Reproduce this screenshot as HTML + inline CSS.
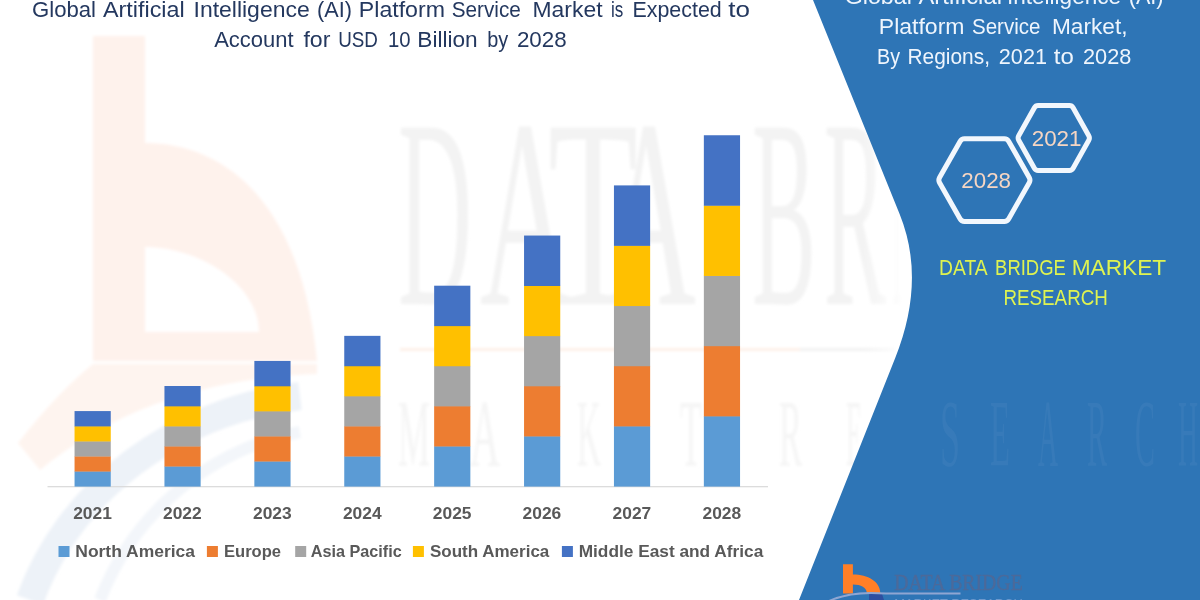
<!DOCTYPE html>
<html lang="en"><head><meta charset="utf-8"><title>Global Artificial Intelligence (AI) Platform Service Market</title>
<style>
html,body{margin:0;padding:0;background:#fff;}
body{width:1200px;height:600px;overflow:hidden;}
svg{display:block}
text{font-family:"Liberation Sans",sans-serif;}
.yr{font-weight:bold;font-size:16.4px;fill:#595959;}
.lg{font-weight:bold;font-size:16.4px;fill:#595959;}
.ttl{font-size:21.4px;fill:#24385f;}
.pt{font-size:21.6px;fill:#eef5fd;}
.hx{font-size:22.5px;fill:#F6D6C3;}
.db{font-size:21.3px;fill:#DFF350;}
.wmt{font-family:"Liberation Serif",serif;font-size:269px;fill:#f3f3f3;}
.wms{font-family:"Liberation Serif",serif;font-size:95px;fill:#f5f5f5;}
.wmp{font-family:"Liberation Serif",serif;font-size:95px;fill:#ffffff;fill-opacity:0.045;}
.lgt{font-family:"Liberation Serif",serif;font-size:23px;fill:#4c6a9a;stroke:#4c6a9a;stroke-width:0.35px;}
.lgs{font-family:"Liberation Sans",sans-serif;font-size:12.5px;fill:#7da2d3;fill-opacity:0.8;}
</style></head><body>
<svg width="1200" height="600" viewBox="0 0 1200 600">
<defs><filter id="bl" x="-5%" y="-5%" width="110%" height="110%"><feGaussianBlur stdDeviation="1.6"/></filter><linearGradient id="fade" x1="0" y1="0" x2="1" y2="0"><stop offset="0" stop-color="#fff" stop-opacity="0"/><stop offset="1" stop-color="#fff" stop-opacity="1"/></linearGradient></defs>
<rect width="1200" height="600" fill="#ffffff"/>
<g class="wm" filter="url(#bl)">
<path d="M30,600 A330,300 0 0 1 300,396" fill="none" stroke="#edf2f8" stroke-width="28"/>
<path d="M100,600 A270,270 0 0 1 300,432" fill="none" stroke="#f3f6fa" stroke-width="12"/>
<path fill-rule="evenodd" d="M93,36 H145 V143 C215,143 300,190 317,361 H93 Z M145,247 C200,247 259,285 259,332 H145 Z" fill="#fef2ec"/>
<path d="M18,443 Q58,392 93,364 L317,364 L317,374 Q150,380 40,470 Z" fill="#fef4ef"/>
<text x="398.0" y="304.0" class="wmt" textLength="74.0" lengthAdjust="spacingAndGlyphs">D</text>
<text x="480.0" y="304.0" class="wmt" textLength="92.0" lengthAdjust="spacingAndGlyphs">A</text>
<text x="548.0" y="304.0" class="wmt" textLength="90.0" lengthAdjust="spacingAndGlyphs">T</text>
<text x="604.0" y="304.0" class="wmt" textLength="92.0" lengthAdjust="spacingAndGlyphs">A</text>
<text x="752.0" y="304.0" class="wmt" textLength="64.0" lengthAdjust="spacingAndGlyphs">B</text>
<text x="824.0" y="304.0" class="wmt" textLength="62.0" lengthAdjust="spacingAndGlyphs">R</text>
<text x="893.0" y="304.0" class="wmt" textLength="8.0" lengthAdjust="spacingAndGlyphs">I</text>
<rect x="400" y="348" width="400" height="3" fill="#fdf0e8"/>
<rect x="800" y="348" width="95" height="3" fill="#f1f1f1"/>
<text x="398.0" y="466.0" class="wms" textLength="32.0" lengthAdjust="spacingAndGlyphs">M</text>
<text x="470.0" y="466.0" class="wms" textLength="30.0" lengthAdjust="spacingAndGlyphs">A</text>
<text x="525.0" y="466.0" class="wms" textLength="25.0" lengthAdjust="spacingAndGlyphs">R</text>
<text x="577.0" y="466.0" class="wms" textLength="24.0" lengthAdjust="spacingAndGlyphs">K</text>
<text x="630.0" y="466.0" class="wms" textLength="18.0" lengthAdjust="spacingAndGlyphs">E</text>
<text x="680.0" y="466.0" class="wms" textLength="22.0" lengthAdjust="spacingAndGlyphs">T</text>
<text x="779.0" y="466.0" class="wms" textLength="23.0" lengthAdjust="spacingAndGlyphs">R</text>
<text x="846.0" y="466.0" class="wms" textLength="16.0" lengthAdjust="spacingAndGlyphs">E</text>
<rect x="862" y="60" width="45" height="440" fill="url(#fade)"/>
</g>
<rect x="47.5" y="486.1" width="720.5" height="1.2" fill="#d9d9d9"/>
<rect x="74.55" y="471.25" width="36.2" height="15.34" fill="#5B9BD5"/>
<rect x="74.55" y="456.21" width="36.2" height="15.34" fill="#ED7D31"/>
<rect x="74.55" y="441.17" width="36.2" height="15.34" fill="#A5A5A5"/>
<rect x="74.55" y="426.12" width="36.2" height="15.34" fill="#FFC000"/>
<rect x="74.55" y="411.08" width="36.2" height="15.34" fill="#4472C4"/>
<rect x="164.45" y="466.24" width="36.2" height="20.36" fill="#5B9BD5"/>
<rect x="164.45" y="446.18" width="36.2" height="20.36" fill="#ED7D31"/>
<rect x="164.45" y="426.12" width="36.2" height="20.36" fill="#A5A5A5"/>
<rect x="164.45" y="406.06" width="36.2" height="20.36" fill="#FFC000"/>
<rect x="164.45" y="386.00" width="36.2" height="20.36" fill="#4472C4"/>
<rect x="254.35" y="461.23" width="36.2" height="25.37" fill="#5B9BD5"/>
<rect x="254.35" y="436.15" width="36.2" height="25.37" fill="#ED7D31"/>
<rect x="254.35" y="411.08" width="36.2" height="25.37" fill="#A5A5A5"/>
<rect x="254.35" y="386.00" width="36.2" height="25.37" fill="#FFC000"/>
<rect x="254.35" y="360.93" width="36.2" height="25.37" fill="#4472C4"/>
<rect x="344.25" y="456.21" width="36.2" height="30.39" fill="#5B9BD5"/>
<rect x="344.25" y="426.12" width="36.2" height="30.39" fill="#ED7D31"/>
<rect x="344.25" y="396.03" width="36.2" height="30.39" fill="#A5A5A5"/>
<rect x="344.25" y="365.94" width="36.2" height="30.39" fill="#FFC000"/>
<rect x="344.25" y="335.85" width="36.2" height="30.39" fill="#4472C4"/>
<rect x="434.15" y="446.18" width="36.2" height="40.42" fill="#5B9BD5"/>
<rect x="434.15" y="406.06" width="36.2" height="40.42" fill="#ED7D31"/>
<rect x="434.15" y="365.94" width="36.2" height="40.42" fill="#A5A5A5"/>
<rect x="434.15" y="325.82" width="36.2" height="40.42" fill="#FFC000"/>
<rect x="434.15" y="285.70" width="36.2" height="40.42" fill="#4472C4"/>
<rect x="524.05" y="436.15" width="36.2" height="50.45" fill="#5B9BD5"/>
<rect x="524.05" y="386.00" width="36.2" height="50.45" fill="#ED7D31"/>
<rect x="524.05" y="335.85" width="36.2" height="50.45" fill="#A5A5A5"/>
<rect x="524.05" y="285.70" width="36.2" height="50.45" fill="#FFC000"/>
<rect x="524.05" y="235.55" width="36.2" height="50.45" fill="#4472C4"/>
<rect x="613.95" y="426.12" width="36.2" height="60.48" fill="#5B9BD5"/>
<rect x="613.95" y="365.94" width="36.2" height="60.48" fill="#ED7D31"/>
<rect x="613.95" y="305.76" width="36.2" height="60.48" fill="#A5A5A5"/>
<rect x="613.95" y="245.58" width="36.2" height="60.48" fill="#FFC000"/>
<rect x="613.95" y="185.40" width="36.2" height="60.48" fill="#4472C4"/>
<rect x="703.85" y="416.09" width="36.2" height="70.51" fill="#5B9BD5"/>
<rect x="703.85" y="345.88" width="36.2" height="70.51" fill="#ED7D31"/>
<rect x="703.85" y="275.67" width="36.2" height="70.51" fill="#A5A5A5"/>
<rect x="703.85" y="205.46" width="36.2" height="70.51" fill="#FFC000"/>
<rect x="703.85" y="135.25" width="36.2" height="70.51" fill="#4472C4"/>
<text x="73.2" y="518.8" class="yr" textLength="38.7" lengthAdjust="spacingAndGlyphs">2021</text>
<text x="163.0" y="518.8" class="yr" textLength="38.7" lengthAdjust="spacingAndGlyphs">2022</text>
<text x="253.0" y="518.8" class="yr" textLength="38.7" lengthAdjust="spacingAndGlyphs">2023</text>
<text x="342.9" y="518.8" class="yr" textLength="38.7" lengthAdjust="spacingAndGlyphs">2024</text>
<text x="432.8" y="518.8" class="yr" textLength="38.7" lengthAdjust="spacingAndGlyphs">2025</text>
<text x="522.6" y="518.8" class="yr" textLength="38.7" lengthAdjust="spacingAndGlyphs">2026</text>
<text x="612.6" y="518.8" class="yr" textLength="38.7" lengthAdjust="spacingAndGlyphs">2027</text>
<text x="702.5" y="518.8" class="yr" textLength="38.7" lengthAdjust="spacingAndGlyphs">2028</text>
<rect x="58.5" y="546" width="11" height="11" fill="#5B9BD5"/>
<text x="75.3" y="556.7" class="lg" textLength="119.7" lengthAdjust="spacingAndGlyphs">North America</text>
<rect x="206.9" y="546" width="11" height="11" fill="#ED7D31"/>
<text x="224.0" y="556.7" class="lg" textLength="57.0" lengthAdjust="spacingAndGlyphs">Europe</text>
<rect x="295.2" y="546" width="11" height="11" fill="#A5A5A5"/>
<text x="310.7" y="556.7" class="lg" textLength="91.0" lengthAdjust="spacingAndGlyphs">Asia Pacific</text>
<rect x="412.9" y="546" width="11" height="11" fill="#FFC000"/>
<text x="430.0" y="556.7" class="lg" textLength="119.3" lengthAdjust="spacingAndGlyphs">South America</text>
<rect x="561.9" y="546" width="11" height="11" fill="#4472C4"/>
<text x="578.7" y="556.7" class="lg" textLength="184.6" lengthAdjust="spacingAndGlyphs">Middle East and Africa</text>
<text x="32.0" y="17.3" class="ttl" textLength="64.0" lengthAdjust="spacingAndGlyphs">Global</text>
<text x="103.0" y="17.3" class="ttl" textLength="81.7" lengthAdjust="spacingAndGlyphs">Artificial</text>
<text x="193.5" y="17.3" class="ttl" textLength="116.2" lengthAdjust="spacingAndGlyphs">Intelligence</text>
<text x="317.0" y="17.3" class="ttl" textLength="34.9" lengthAdjust="spacingAndGlyphs">(AI)</text>
<text x="358.8" y="17.3" class="ttl" textLength="86.2" lengthAdjust="spacingAndGlyphs">Platform</text>
<text x="451.7" y="17.3" class="ttl" textLength="69.1" lengthAdjust="spacingAndGlyphs">Service</text>
<text x="532.5" y="17.3" class="ttl" textLength="70.0" lengthAdjust="spacingAndGlyphs">Market</text>
<text x="611.0" y="17.3" class="ttl" textLength="12.3" lengthAdjust="spacingAndGlyphs">is</text>
<text x="632.5" y="17.3" class="ttl" textLength="89.2" lengthAdjust="spacingAndGlyphs">Expected</text>
<text x="728.3" y="17.3" class="ttl" textLength="21.7" lengthAdjust="spacingAndGlyphs">to</text>
<text x="214.2" y="46.7" class="ttl" textLength="79.4" lengthAdjust="spacingAndGlyphs">Account</text>
<text x="303.4" y="46.7" class="ttl" textLength="27.0" lengthAdjust="spacingAndGlyphs">for</text>
<text x="338.2" y="46.7" class="ttl" textLength="39.8" lengthAdjust="spacingAndGlyphs">USD</text>
<text x="388.0" y="46.7" class="ttl" textLength="22.6" lengthAdjust="spacingAndGlyphs">10</text>
<text x="417.3" y="46.7" class="ttl" textLength="60.4" lengthAdjust="spacingAndGlyphs">Billion</text>
<text x="487.3" y="46.7" class="ttl" textLength="21.0" lengthAdjust="spacingAndGlyphs">by</text>
<text x="516.9" y="46.7" class="ttl" textLength="49.8" lengthAdjust="spacingAndGlyphs">2028</text>
<path d="M813,0 L899.6,214 Q926.3,279.9 895.2,358 L799,600 L1200,600 L1200,0 Z" fill="#2E75B6"/>
<text x="844.7" y="3.8" class="pt" textLength="67.1" lengthAdjust="spacingAndGlyphs">Global</text>
<text x="918.4" y="3.8" class="pt" textLength="83.6" lengthAdjust="spacingAndGlyphs">Artificial</text>
<text x="1007.0" y="3.8" class="pt" textLength="114.0" lengthAdjust="spacingAndGlyphs">Intelligence</text>
<text x="1128.7" y="3.8" class="pt" textLength="34.9" lengthAdjust="spacingAndGlyphs">(AI)</text>
<text x="878.8" y="34.2" class="pt" textLength="85.7" lengthAdjust="spacingAndGlyphs">Platform</text>
<text x="972.0" y="34.2" class="pt" textLength="68.5" lengthAdjust="spacingAndGlyphs">Service</text>
<text x="1052.0" y="34.2" class="pt" textLength="75.5" lengthAdjust="spacingAndGlyphs">Market,</text>
<text x="877.0" y="64.3" class="pt" textLength="23.0" lengthAdjust="spacingAndGlyphs">By</text>
<text x="907.5" y="64.3" class="pt" textLength="82.5" lengthAdjust="spacingAndGlyphs">Regions,</text>
<text x="998.8" y="64.3" class="pt" textLength="48.2" lengthAdjust="spacingAndGlyphs">2021</text>
<text x="1053.8" y="64.3" class="pt" textLength="20.0" lengthAdjust="spacingAndGlyphs">to</text>
<text x="1083.0" y="64.3" class="pt" textLength="48.3" lengthAdjust="spacingAndGlyphs">2028</text>
<text x="940.0" y="466.0" class="wmp" textLength="20.0" lengthAdjust="spacingAndGlyphs">S</text>
<text x="990.0" y="466.0" class="wmp" textLength="20.0" lengthAdjust="spacingAndGlyphs">E</text>
<text x="1038.0" y="466.0" class="wmp" textLength="20.0" lengthAdjust="spacingAndGlyphs">A</text>
<text x="1087.0" y="466.0" class="wmp" textLength="20.0" lengthAdjust="spacingAndGlyphs">R</text>
<text x="1135.0" y="466.0" class="wmp" textLength="20.0" lengthAdjust="spacingAndGlyphs">C</text>
<text x="1178.0" y="466.0" class="wmp" textLength="20.0" lengthAdjust="spacingAndGlyphs">H</text>
<path d="M939.58,182.71 Q938.10,180.10 939.58,177.49 L960.02,141.41 Q961.50,138.80 964.50,138.80 L1004.30,138.80 Q1007.30,138.80 1008.78,141.41 L1029.22,177.49 Q1030.70,180.10 1029.22,182.71 L1008.78,218.79 Q1007.30,221.40 1004.30,221.40 L964.50,221.40 Q961.50,221.40 960.02,218.79 Z" fill="none" stroke="#f2f7fd" stroke-width="5" stroke-linejoin="round"/>
<path d="M1018.72,140.18 Q1017.50,138.00 1018.72,135.82 L1034.38,107.68 Q1035.60,105.50 1038.10,105.50 L1069.40,105.50 Q1071.90,105.50 1073.12,107.68 L1088.78,135.82 Q1090.00,138.00 1088.78,140.18 L1073.12,168.32 Q1071.90,170.50 1069.40,170.50 L1038.10,170.50 Q1035.60,170.50 1034.38,168.32 Z" fill="none" stroke="#f2f7fd" stroke-width="5" stroke-linejoin="round"/>
<text x="961.3" y="188.2" class="hx" textLength="49.7" lengthAdjust="spacingAndGlyphs">2028</text>
<text x="1031.7" y="145.8" class="hx" textLength="49.8" lengthAdjust="spacingAndGlyphs">2021</text>
<text x="939.1" y="275.0" class="db" textLength="48.6" lengthAdjust="spacingAndGlyphs">DATA</text>
<text x="995.1" y="275.0" class="db" textLength="70.7" lengthAdjust="spacingAndGlyphs">BRIDGE</text>
<text x="1071.7" y="275.0" class="db" textLength="94.5" lengthAdjust="spacingAndGlyphs">MARKET</text>
<text x="1003.5" y="305.0" class="db" textLength="104.3" lengthAdjust="spacingAndGlyphs">RESEARCH</text>
<g class="logo">
<path d="M869,600 L869,594 L882,594 L884,600 Z" fill="#2d4fa0"/>
<path d="M843,564.2 H852.9 V574.6 C868,574.6 880,581.5 880.3,593 L866.8,593 C866.8,588 861,584.6 852.9,584.6 V593.5 H843 Z" fill="#FF7F27"/>
<path d="M829,601 Q852,590.5 886,593.6 L960.5,593.6" fill="none" stroke="#8fa6d2" stroke-width="2"/>
<text x="894.3" y="589.8" class="lgt" textLength="128.4" lengthAdjust="spacingAndGlyphs">DATA BRIDGE</text>
<text x="894.3" y="607.8" class="lgs" textLength="128.4" lengthAdjust="spacingAndGlyphs">MARKET RESEARCH</text>
</g>
</svg>
</body></html>
